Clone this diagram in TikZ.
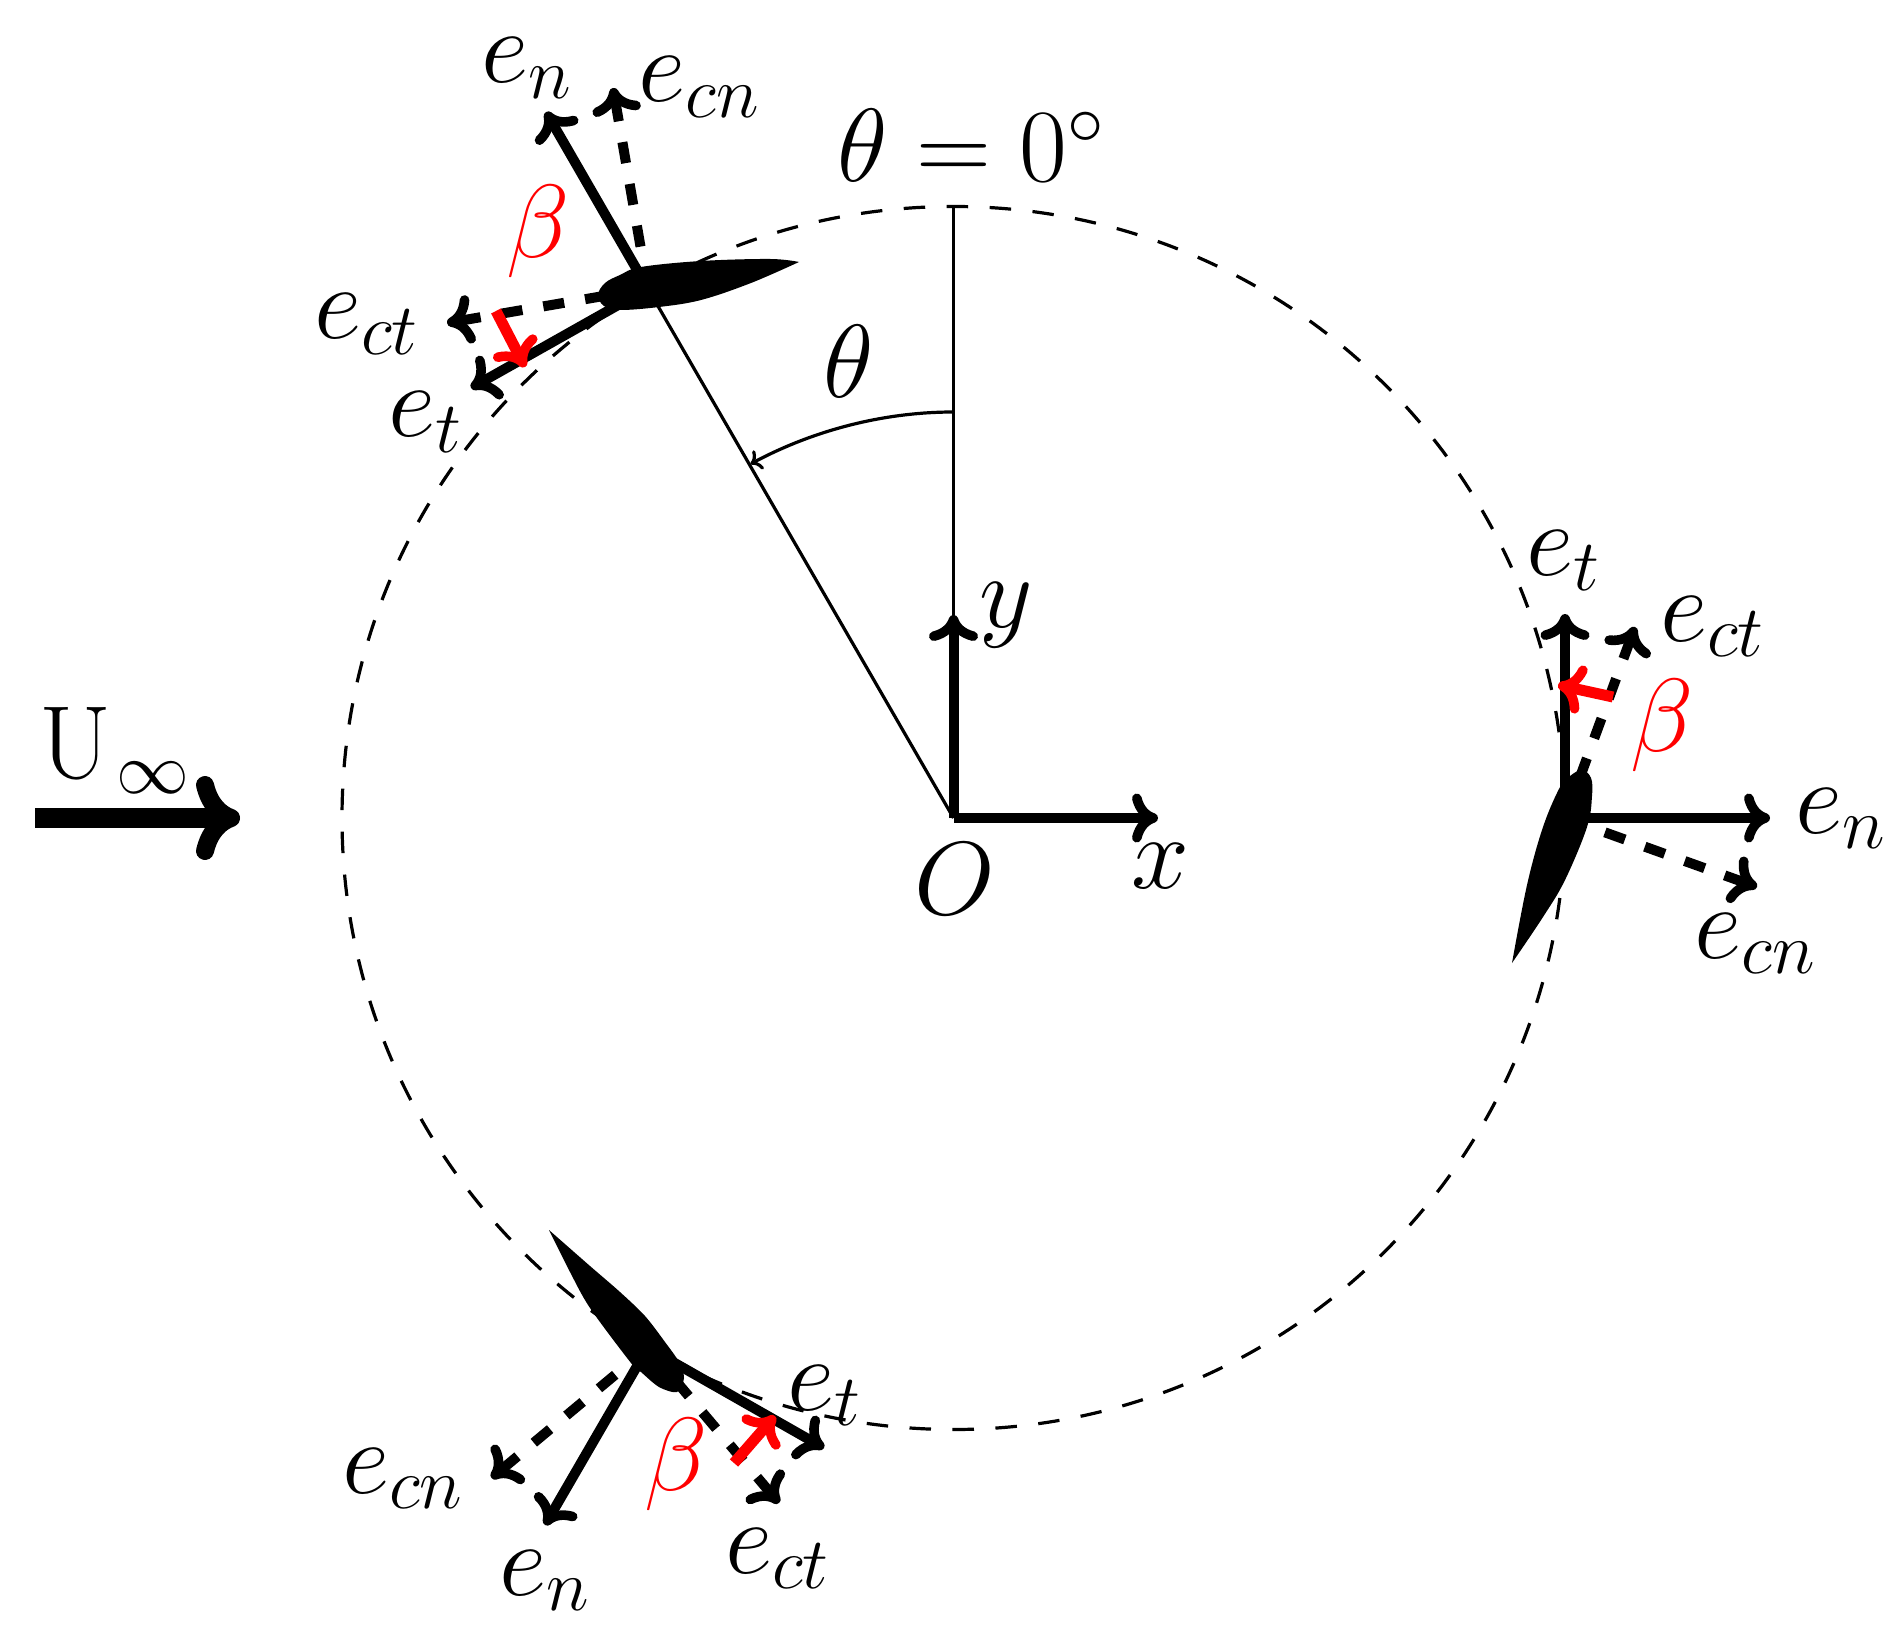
\documentclass[tikz,border=0pt]{standalone}
\usepackage{fix-cm}
\usetikzlibrary{arrows.meta}
\newcommand{\lbl}{\fontsize{52}{60}\selectfont}
\tikzset{
  x=0.5pt,y=-0.5pt,
  lab/.style={anchor=base west,inner sep=0pt,outer sep=0pt,font=\lbl},
  thinl/.style={line width=1.6pt},
  circl/.style={line width=1.6pt,dash pattern=on 10.75pt off 10.75pt},
  bighead/.style={-{Computer Modern Rightarrow[length=13pt,width=24.5pt,line width=4.8pt]}},
  vec/.style={bighead,line width=5pt},
  cvec/.style={bighead,line width=5pt,dash pattern=on 10.6pt off 10.6pt},
  redvec/.style={bighead,line width=5.5pt,red},
  flow/.style={-{Computer Modern Rightarrow[length=22pt,width=42pt,line width=9pt]},line width=10pt},
  foil/.style={fill=black,draw=none}
}
\begin{document}
\begin{tikzpicture}
\useasboundingbox (0,0) rectangle (1904,1641);
% origin and circle
\coordinate (O) at (953.5,818);
\coordinate (T) at (953.5,206.5);
\coordinate (R) at (1565,818);
\coordinate (P1) at (647.75,288.4);
\coordinate (P2) at (1565,818);
\coordinate (P3) at (647.75,1347.6);
\draw[circl] (R) arc[start angle=0,delta angle=-360,radius=611.5];
\draw[thinl] (O) -- (T);
\draw[thinl] (O) -- (P1);
\coordinate (A1) at (953.5,412);
\coordinate (A2) at (750.5,464);
\draw[->,line width=1.6pt] (A1) .. controls (882,412) and (812,431) .. (A2);
% axes
\coordinate (Xt) at (1158,818);
\coordinate (Yt) at (953.5,615);
\draw[vec] (O) -- (Xt);
\draw[vec] (O) -- (Yt);
% free stream
\coordinate (Ua) at (35,818);
\coordinate (Ub) at (240,818);
\draw[flow] (Ua) -- (Ub);
\node[lab] (lU) at (39.5,778) {$\mathrm{U}_{\kern2.5pt\infty}$};
\node[lab] (lx) at (1131,888) {$x$};
\node[lab] (ly) at (979,627) {$y$};
\node[lab] (lO) at (914,914) {$O$};
\node[lab] (lth) at (823,398) {$\theta$};
\node[lab] (lth0) at (837,182) {$\theta=0^\circ$};
% top-left blade
\fill[foil] plot[smooth,tension=0.6] coordinates {(799,262) (770,259) (701,261) (641,267) (620,275) (605,283) (598,295) (604,306) (620,310) (659,307) (701,300) (751,283) (799,262)} -- cycle;
\coordinate (n1) at (546,112);
\coordinate (cn1) at (613,88);
\coordinate (t1) at (471,388);
\coordinate (ct1) at (447,323);
\coordinate (ra1) at (496,311);
\coordinate (rb1) at (525,367);
\draw[vec] (P1) -- (n1);
\draw[vec] (P1) -- (t1);
\draw[cvec] (P1) -- (cn1);
\draw[cvec] (P1) -- (ct1);
\draw[redvec] (ra1) -- (rb1);
\node[lab] (ln1) at (481,83) {$e_n$};
\node[lab] (lcn1) at (638.5,102) {$e_{cn}$};
\node[lab] (lct1) at (314,339) {$e_{ct}$};
\node[lab] (lt1) at (388.5,437) {$e_t$};
\node[lab,red] (lb1) at (506,258) {$\beta$};
% right blade
\fill[foil] plot[smooth,tension=0.6] coordinates {(1512,963) (1527,885) (1543,827) (1560,787) (1570,776) (1582,770) (1591,778) (1592,796) (1587,827) (1565,880) (1543,917) (1512,963)} -- cycle;
\coordinate (n2) at (1770,818);
\coordinate (cn2) at (1757,887);
\coordinate (t2) at (1565,614);
\coordinate (ct2) at (1635,627);
\coordinate (ra2) at (1613,697);
\coordinate (rb2) at (1558,685);
\draw[vec] (P2) -- (n2);
\draw[vec] (P2) -- (t2);
\draw[cvec] (P2) -- (cn2);
\draw[cvec] (P2) -- (ct2);
\draw[redvec] (ra2) -- (rb2);
\node[lab] (ln2) at (1795.5,833) {$e_n$};
\node[lab] (lcn2) at (1694.5,958) {$e_{cn}$};
\node[lab] (lct2) at (1660,641) {$e_{ct}$};
\node[lab] (lt2) at (1526,575) {$e_t$};
\node[lab,red] (lb2) at (1630,751) {$\beta$};
% bottom blade
\fill[foil] plot[smooth,tension=0.5] coordinates {(549,1230) (590,1266) (620,1292) (645,1316) (665,1342) (679,1362) (684,1378) (677,1392) (659,1387) (641,1372) (631,1363) (590,1308) (570,1272) (549,1230)} -- cycle;
\coordinate (n3) at (545,1525);
\coordinate (cn3) at (491.5,1478);
\coordinate (t3) at (824,1448);
\coordinate (ct3) at (779,1503);
\coordinate (ra3) at (734,1463);
\coordinate (rb3) at (775,1416);
\draw[vec] (P3) -- (n3);
\draw[vec] (P3) -- (t3);
\draw[cvec] (P3) -- (cn3);
\draw[cvec] (P3) -- (ct3);
\draw[redvec] (ra3) -- (rb3);
\node[lab] (ln3) at (499,1595) {$e_n$};
\node[lab] (lcn3) at (342,1493) {$e_{cn}$};
\node[lab] (lct3) at (725,1573) {$e_{ct}$};
\node[lab] (lt3) at (787,1410) {$e_t$};
\node[lab,red] (lb3) at (644,1490) {$\beta$};
\end{tikzpicture}
\end{document}
